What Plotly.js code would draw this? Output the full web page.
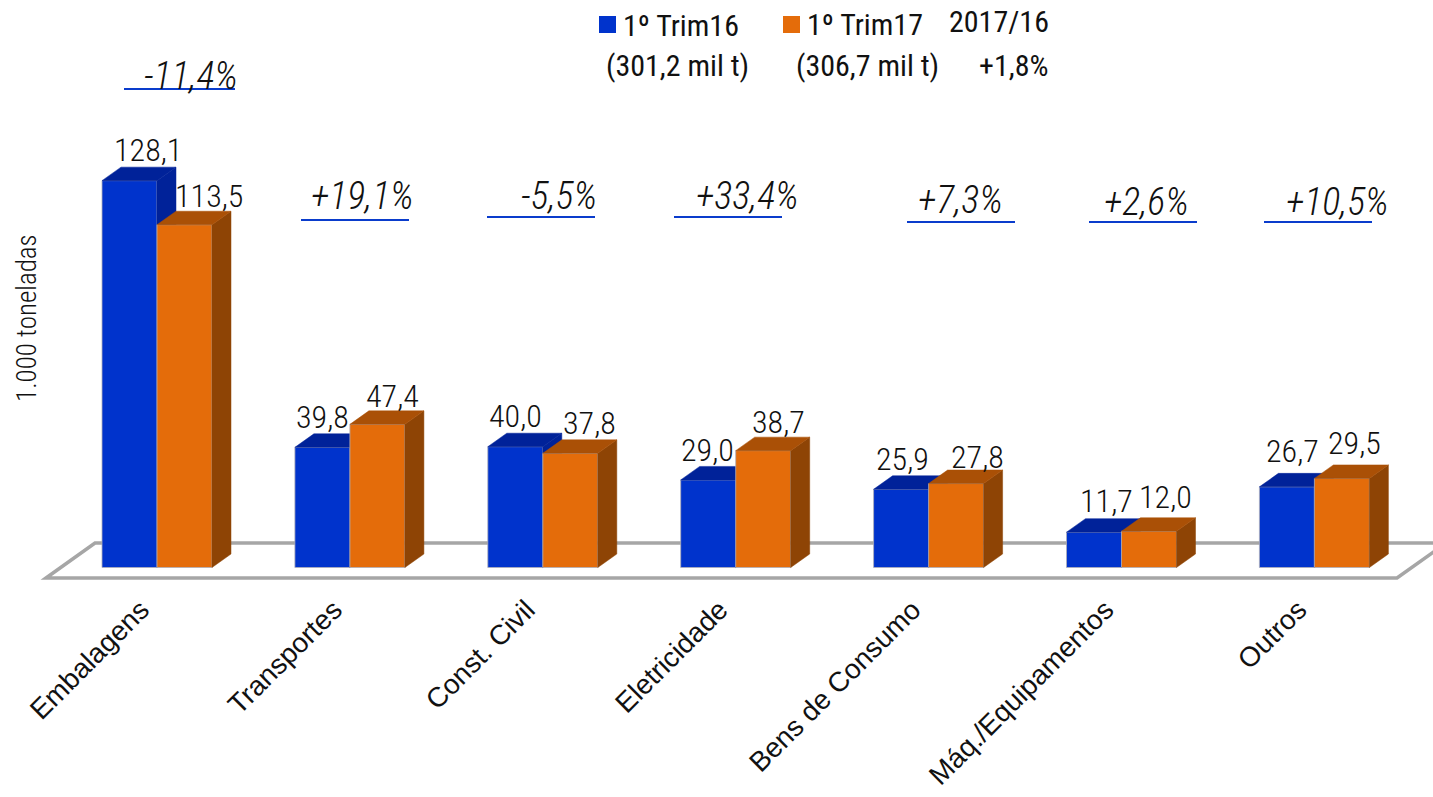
<!DOCTYPE html>
<html><head><meta charset="utf-8">
<script src="https://cdn.plot.ly/plotly-3.0.1.min.js"></script>
<style>html,body{margin:0;padding:0;background:#fff;overflow:hidden}#c{width:1433px;height:797px}</style>
</head><body><div id="c"></div>
<script>
const categories = ['Embalagens','Transportes','Const. Civil','Eletricidade','Bens de Consumo','Máq./Equipamentos','Outros'];
const trim16 = [128.1,39.8,40.0,29.0,25.9,11.7,26.7];
const trim17 = [113.5,47.4,37.8,38.7,27.8,12.0,29.5];
const variation = ['-11,4%','+19,1%','-5,5%','+33,4%','+7,3%','+2,6%','+10,5%'];
const name16 = '1º Trim16', name17 = '1º Trim17';
const total16 = '(301,2 mil t)', total17 = '(306,7 mil t)';
const totalHeader = '2017/16', totalVar = '+1,8%';
const yTitle = '1.000 toneladas';

// Layout helpers (pixels of the page)
const W=1433,H=797,BASE=567.5,PXU=3.02,X0=157,STEP=192.9,MB=215;
const PLOT_H=H-MB;
const xRange=[-X0/STEP,(W-X0)/STEP];
const yRange=[(BASE-PLOT_H)/PXU,BASE/PXU];
const DX=19/STEP,DY=13.5/PXU,BW=55/STEP;
const px=x=>(x-X0)/STEP, py=y=>(BASE-y)/PXU;
const NARROW='"Roboto Condensed","Liberation Sans Narrow",sans-serif';
const ARIAL='"Liberation Sans",Arial,sans-serif';
const fmt=v=>v.toFixed(1).replace('.',',');

const labelShift16=[[18,-31],[0,-30],[0,-31],[-1,-30],[1,-30],[12,-31],[6,-36]];
const labelShift17=[[24,-29],[15,-28],[19,-30],[15,-29],[21,-27],[16,-34],[13,-35]];
const varLine=[[124,235,89],[301,409,220],[487,595,217],[674,782,217],[907,1015,222],[1089,1197,222],[1264,1372,222]];
const varText=[[191,76],[362,196],[559,196],[747,196],[960,200],[1146,202],[1337,202]];

function faces(vals,start){
  const sx=[],sy=[],tx=[],ty=[];
  vals.forEach((v,i)=>{
    const l=i+start,r=l+BW;
    tx.push(l,l+DX,r+DX,r,l,null); ty.push(v,v+DY,v+DY,v,v,null);
    sx.push(r,r+DX,r+DX,r,r,null); sy.push(v,v+DY,DY,0,v,null);
  });
  return {sx,sy,tx,ty};
}
function series(vals,start,col,topCol,sideCol,name,xa,ya){
  const f=faces(vals,start);
  const edge='rgba(175,175,185,0.8)';
  const poly=(x,y,c)=>({type:'scatter',mode:'lines',x,y,xaxis:xa,yaxis:ya,fill:'toself',fillcolor:c,
    line:{color:c,width:0.5},hoverinfo:'skip',showlegend:false});
  return [
    {type:'bar',name,x:categories.map((_,i)=>i),y:vals,offset:start,width:BW,xaxis:xa,yaxis:ya,
     marker:{color:col,line:{color:edge,width:1}},showlegend:false,hovertemplate:'%{y}<extra></extra>'},
    poly(f.sx,f.sy,sideCol),
    poly(f.tx,f.ty,topCol)
  ];
}
const data=[
  ...series(trim16,-BW,'#0033cc','#002299','#002299',name16,'x','y'),
  ...series(trim17,0,'#e46c0a','#aa5006','#8e4405',name17,'x2','y2')
];

const annotations=[];
const paperText=(text,x,y,font,extra)=>annotations.push(Object.assign({text,xref:'paper',yref:'paper',
  x:x/W,y:(H-y-MB)/PLOT_H,xanchor:'center',yanchor:'middle',showarrow:false,font},extra||{}));
const addVals=(vals,start,shift)=>vals.forEach((v,i)=>annotations.push({text:fmt(v),xref:'x',yref:'y',
  x:i+start+BW/2,y:v,xanchor:'center',yanchor:'middle',xshift:shift[i][0],yshift:-shift[i][1],showarrow:false,
  font:{size:32,family:NARROW,color:'#111',weight:300}}));
addVals(trim16,-BW,labelShift16);
addVals(trim17,0,labelShift17);
const varFont={size:38,family:NARROW,color:'#111',weight:300,style:'italic'};
const legFont={size:30,family:NARROW,color:'#111',weight:400};
variation.forEach((t,i)=>paperText(t,varText[i][0],varText[i][1],varFont));
paperText(yTitle,27,318,{size:27,family:NARROW,color:'#111',weight:300},{textangle:-90});
paperText(name16,681,26,legFont);
paperText(name17,865,25,legFont);
paperText(totalHeader,999,22,legFont);
paperText(total16,677.5,65,legFont);
paperText(total17,867,65,legFont);
paperText(totalVar,1013,65,legFont);

const floorPts=[[46,578],[95,543],[1446,543],[1397,578]];
const floorPath='M'+floorPts.map(p=>px(p[0])+','+py(p[1])).join(' L')+' Z';
const shapes=[
  {type:'path',path:floorPath,xref:'x',yref:'y',layer:'below',fillcolor:'#fff',line:{color:'#a6a6a6',width:3.5}},
  {type:'rect',xref:'paper',yref:'paper',x0:599/W,x1:616/W,y0:(H-33-MB)/PLOT_H,y1:(H-16-MB)/PLOT_H,fillcolor:'#0033cc',line:{width:0}},
  {type:'rect',xref:'paper',yref:'paper',x0:783/W,x1:800/W,y0:(H-33-MB)/PLOT_H,y1:(H-16-MB)/PLOT_H,fillcolor:'#e46c0a',line:{width:0}}
];
varLine.forEach(l=>shapes.push({type:'line',xref:'paper',yref:'paper',x0:l[0]/W,x1:l[1]/W,
  y0:(H-l[2]-MB)/PLOT_H,y1:(H-l[2]-MB)/PLOT_H,line:{color:'#0a3ccc',width:2},layer:'above'}));

const hidden={visible:false,fixedrange:true};
const layout={
  width:W,height:H,margin:{l:0,r:0,t:0,b:MB,pad:0},paper_bgcolor:'#fff',plot_bgcolor:'rgba(0,0,0,0)',
  showlegend:false,hovermode:false,
  xaxis:{range:xRange,tickvals:categories.map((_,i)=>i),ticktext:categories,tickangle:-45,ticks:'',
    showgrid:false,zeroline:false,showline:false,automargin:false,fixedrange:true,ticklabelstandoff:5,ticklabelshift:-16,
    tickfont:{family:ARIAL,size:27.8,color:'#111'}},
  yaxis:{range:yRange,showgrid:false,zeroline:false,showline:false,showticklabels:false,ticks:'',fixedrange:true,automargin:false},
  xaxis2:Object.assign({range:xRange,overlaying:'x'},hidden),
  yaxis2:Object.assign({range:yRange,overlaying:'y'},hidden),
  shapes,annotations
};
Plotly.newPlot('c',data,layout,{displayModeBar:false,staticPlot:true});
</script></body></html>
